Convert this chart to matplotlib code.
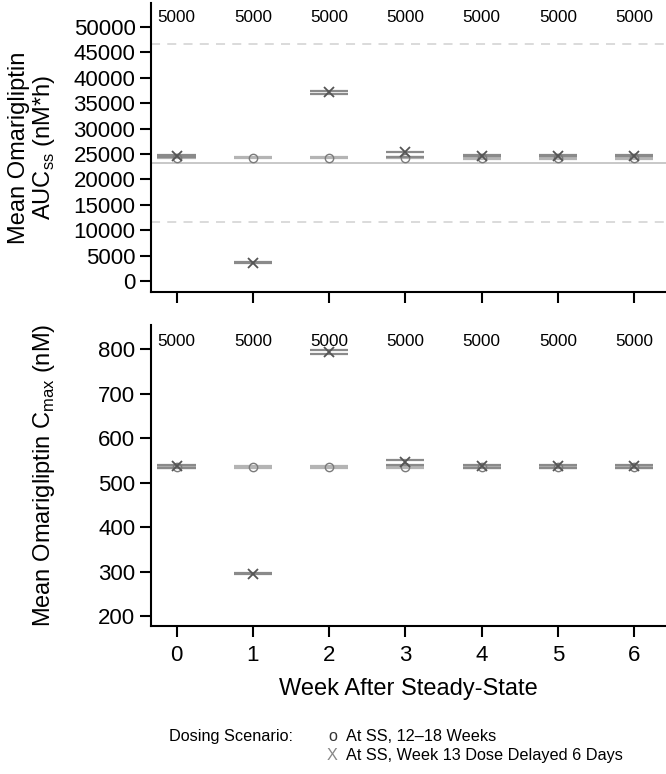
import numpy as np
import matplotlib
matplotlib.use("Agg")
import matplotlib.pyplot as plt

plt.rcParams['font.family'] = ['Liberation Sans', 'DejaVu Sans']

# Dados
weeks = [0, 1, 2, 3, 4, 5, 6]
n_sim = [5000, 5000, 5000, 5000, 5000, 5000, 5000]

# AUCss (nM*h)
auc_ss_mean = [24300, 24300, 24300, 24300, 24250, 24250, 24250]
auc_ss_lo = [24150, 24150, 24150, 24150, 24100, 24100, 24100]
auc_ss_hi = [24450, 24450, 24450, 24450, 24400, 24400, 24400]
auc_dl_mean = [24600, 3650, 37150, 25300, 24700, 24700, 24700]
auc_dl_lo = [24450, 3550, 36900, 24400, 24550, 24550, 24550]
auc_dl_hi = [24750, 3750, 37400, 25400, 24850, 24850, 24850]
auc_ref = 23300
auc_lims = [0.5 * auc_ref, 2 * auc_ref]

# Cmax (nM)
cmax_ss_mean = [535, 535, 535, 535, 535, 535, 535]
cmax_ss_lo = [532, 532, 532, 532, 532, 532, 532]
cmax_ss_hi = [538, 538, 538, 538, 538, 538, 538]
cmax_dl_mean = [537, 295, 794, 547, 537, 537, 537]
cmax_dl_lo = [533, 294, 789, 540, 533, 533, 533]
cmax_dl_hi = [540, 297, 799, 551, 540, 540, 540]

fig = plt.figure(figsize=(6.66, 7.74), dpi=100)
ax1 = fig.add_axes([0.2263, 0.6231, 0.7737, 0.3729])
ax2 = fig.add_axes([0.2263, 0.1912, 0.7737, 0.3888])

c_ss_line = '#b4b4b4'
c_dl_line = '#8a8a8a'
c_ss_mk = '#7a7a7a'
c_dl_mk = '#555555'
hw = 0.25


def draw_panel(ax, ss_m, ss_lo, ss_hi, dl_m, dl_lo, dl_hi, ytext):
    x = np.array(weeks)
    for lo, hi, col in [(ss_lo, ss_hi, c_ss_line), (dl_lo, dl_hi, c_dl_line)]:
        ax.hlines(lo, x - hw, x + hw, color=col, lw=1.6)
        ax.hlines(hi, x - hw, x + hw, color=col, lw=1.6)
    ax.plot(x, ss_m, ls='none', marker='o', ms=6, mfc='none', mec=c_ss_mk, mew=1.0)
    ax.plot(x, dl_m, ls='none', marker='x', ms=7, mec=c_dl_mk, mew=1.3)
    for xi, n in zip(weeks, n_sim):
        ax.text(xi, ytext, str(n), ha='center', va='center', fontsize=12.3)
    for side in ['top', 'right']:
        ax.spines[side].set_visible(False)
    ax.spines['left'].set_linewidth(1.5)
    ax.spines['bottom'].set_linewidth(1.5)
    ax.tick_params(axis='both', length=8, width=1.5, labelsize=16, pad=3)
    ax.tick_params(axis='x', pad=6)
    ax.set_xlim(-0.338, 6.415)
    ax.set_xticks(weeks)


draw_panel(ax1, auc_ss_mean, auc_ss_lo, auc_ss_hi,
           auc_dl_mean, auc_dl_lo, auc_dl_hi, 51800)
ax1.axhline(auc_ref, color='#c4c4c4', lw=1.3, zorder=0)
for v in auc_lims:
    ax1.axhline(v, color='#d8d8d8', lw=1.3, ls=(0, (5, 4)), zorder=0)
ax1.set_ylim(-2100, 54700)
ax1.set_yticks(np.arange(0, 50001, 5000))
ax1.set_xticklabels([])
ax1.set_ylabel('Mean Omarigliptin\nAUC$_{\\mathregular{ss}}$ (nM*h)', fontsize=17,
               linespacing=1.05)
ax1.yaxis.set_label_coords(-0.182, 0.5)

draw_panel(ax2, cmax_ss_mean, cmax_ss_lo, cmax_ss_hi,
           cmax_dl_mean, cmax_dl_lo, cmax_dl_hi, 818)
ax2.set_ylim(177.5, 854)
ax2.set_yticks(np.arange(200, 801, 100))
ax2.set_ylabel('Mean Omarigliptin C$_{\\mathregular{max}}$ (nM)', fontsize=17)
ax2.yaxis.set_label_coords(-0.182, 0.5)
ax2.set_xlabel('Week After Steady-State', fontsize=17, labelpad=8)

# Legenda
fig.text(0.254, 0.048, 'Dosing Scenario:', fontsize=11.7, va='center', ha='left')
fig.text(0.493, 0.048, 'o', fontsize=11.7, va='center', ha='left', color='#333333')
fig.text(0.519, 0.048, 'At SS, 12\u201318 Weeks', fontsize=11.7, va='center', ha='left')
fig.text(0.491, 0.0245, 'X', fontsize=11.7, va='center', ha='left', color='#888888')
fig.text(0.519, 0.0245, 'At SS, Week 13 Dose Delayed 6 Days', fontsize=11.7, va='center', ha='left')

fig.savefig('out.png', dpi=100)
